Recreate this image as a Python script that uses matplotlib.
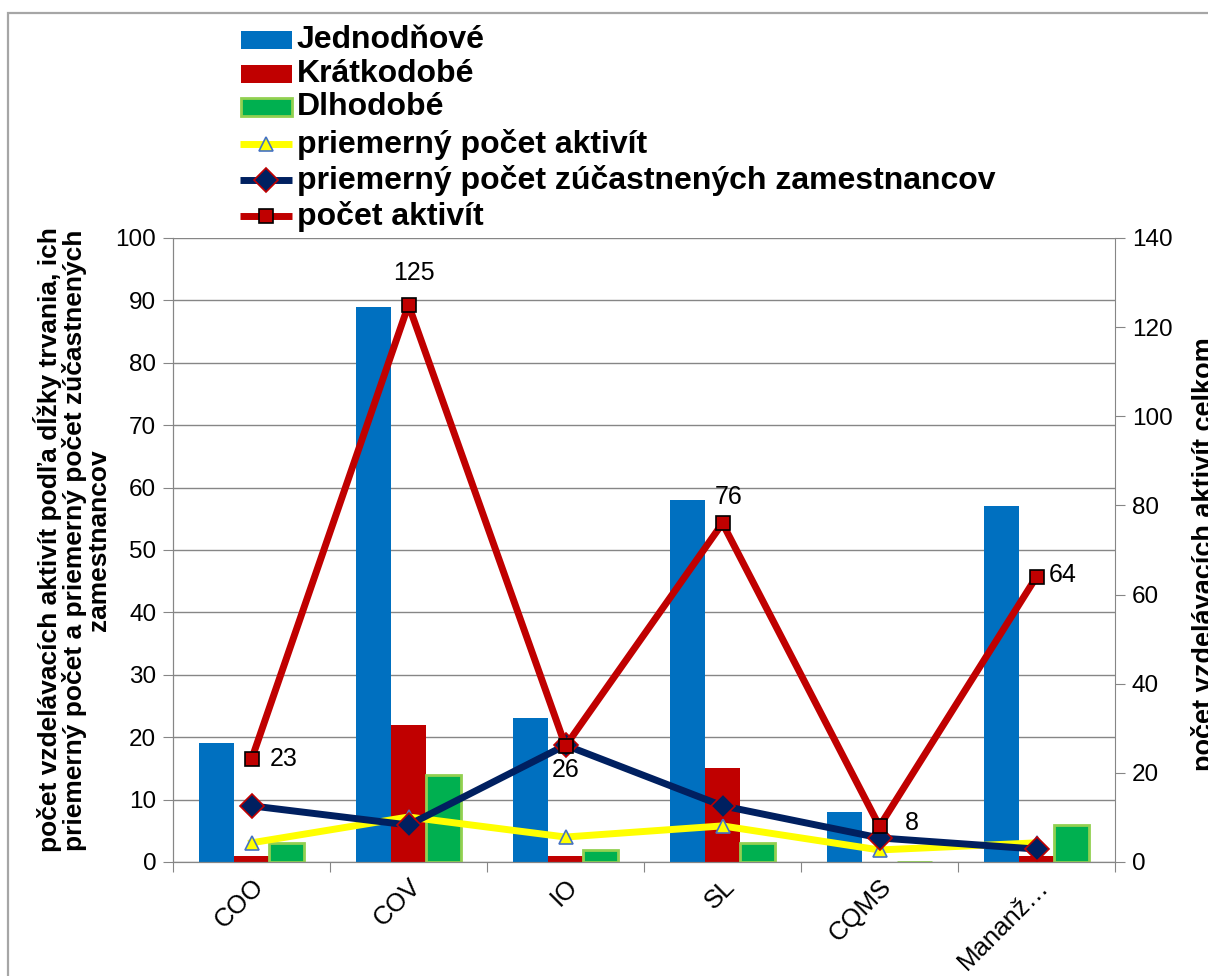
import matplotlib.pyplot as plt
import numpy as np
from matplotlib.patches import Rectangle
from matplotlib.lines import Line2D

plt.rcParams['font.family'] = ['Liberation Sans', 'DejaVu Sans']

# categories and values
kategorie = ['COO', 'COV', 'IO', 'SL', 'CQMS', 'Mananž…']
jednodnove = [19, 89, 23, 58, 8, 57]
kratkodobe = [1, 22, 1, 15, 0, 1]
dlhodobe = [3, 14, 2, 3, 0, 6]
priem_aktivit = [4.3, 10.1, 5.6, 8.1, 2.7, 4.3]
priem_zamestnancov = [12.6, 8.3, 26.2, 12.6, 5.4, 2.9]
pocet_aktivit = [23, 125, 26, 76, 8, 64]

W, H = 1208, 976
fig = plt.figure(figsize=(W / 100, H / 100), dpi=100)

# chart border (cut at right and bottom)
fig.patches.append(Rectangle((8 / W, -0.1), 1.2, 1 - 13 / H + 0.1,
                             transform=fig.transFigure, fill=False,
                             edgecolor='#a6a6a6', linewidth=1.6))

ax = fig.add_axes([173 / W, 1 - 862 / H, (1115 - 173) / W, (862 - 238) / H])
ax2 = ax.twinx()

x = np.arange(len(kategorie))
bw = 0.223
grey = '#868686'

ax.bar(x - bw, jednodnove, bw, color='#0070C0', zorder=2)
ax.bar(x, kratkodobe, bw, color='#C00000', zorder=2)
ax.bar(x + bw, dlhodobe, bw, color='#00B050', edgecolor='#92D050',
       linewidth=2, zorder=2)

styles = [
    dict(color='#FFFF00', linewidth=5, marker='^', markersize=10,
         markerfacecolor='#FFFF00', markeredgecolor='#4472C4', markeredgewidth=1.2),
    dict(color='#002060', linewidth=5, marker='D', markersize=12,
         markerfacecolor='#002060', markeredgecolor='#C00000', markeredgewidth=1.2),
    dict(color='#C00000', linewidth=5, marker='s', markersize=10,
         markerfacecolor='#C00000', markeredgecolor='black', markeredgewidth=1.2),
]
ax2.plot(x, priem_aktivit, zorder=3, **styles[0])
ax2.plot(x, priem_zamestnancov, zorder=4, **styles[1])
ax2.plot(x, pocet_aktivit, zorder=5, **styles[2])

# data labels of the total count (offsets in pixels)
offsets = [(18, 0, 'left', 'center'), (5, 20, 'center', 'bottom'),
           (0, -12, 'center', 'top'), (6, 14, 'center', 'bottom'),
           (25, 3, 'left', 'center'), (12, 2, 'left', 'center')]
for xi, v, (dx, dy, ha, va) in zip(x, pocet_aktivit, offsets):
    ax2.annotate(str(v), (xi, v), xytext=(dx, dy), textcoords='offset pixels',
                 ha=ha, va=va, fontsize=18, zorder=6)

ax.set_xlim(-0.5, len(kategorie) - 0.5)
ax.set_ylim(0, 100)
ax2.set_ylim(0, 140)
ax.set_yticks(np.arange(0, 101, 10))
ax2.set_yticks(np.arange(0, 141, 20))
ax.yaxis.grid(True, color=grey, linewidth=1)
ax.set_axisbelow(True)

ax.set_xticks(np.arange(-0.5, len(kategorie), 1))
ax.set_xticklabels([])
ax.set_xticks(x, minor=True)
ax.set_xticklabels(kategorie, minor=True, rotation=45, ha='right', va='top',
                   rotation_mode='anchor', fontsize=18.5)
ax.tick_params(axis='x', which='minor', length=0, pad=9)
ax.tick_params(axis='x', which='major', length=7, color=grey, direction='out')
ax.tick_params(axis='y', labelsize=17.5, length=7, color=grey, pad=5)
ax2.tick_params(axis='y', labelsize=17.5, length=7, color=grey, pad=5)

for a in (ax, ax2):
    a.spines['top'].set_visible(False)
    for s in ('left', 'right', 'bottom'):
        a.spines[s].set_color(grey)
ax.spines['right'].set_visible(False)

fig.text(72 / W, 1 - 540 / H,
         'počet vzdelávacích aktivít podľa dĺžky trvania, ich\n'
         'priemerný počet a priemerný počet zúčastnených\nzamestnancov',
         rotation=90, ha='center', va='center', multialignment='center',
         fontsize=19, fontweight='bold', linespacing=1.0)
fig.text(1204 / W, 1 - 554 / H, 'počet vzdelávacích aktivít celkom',
         rotation=90, ha='center', va='center', fontsize=19.5, fontweight='bold')

# legend drawn row by row
labels = ['Jednodňové', 'Krátkodobé', 'Dlhodobé', 'priemerný počet aktivít',
          'priemerný počet zúčastnených zamestnancov', 'počet aktivít']
bar_colors = [('#0070C0', 'none'), ('#C00000', 'none'), ('#00B050', '#92D050')]
row_y = [40, 74, 107, 144, 180, 216]
for i, (lab, yy) in enumerate(zip(labels, row_y)):
    yf = 1 - yy / H
    if i < 3:
        fc, ec = bar_colors[i]
        fig.patches.append(Rectangle((241 / W, 1 - (yy + 9) / H), 51 / W, 18 / H,
                                     transform=fig.transFigure, facecolor=fc,
                                     edgecolor=ec, linewidth=2))
    else:
        st = dict(styles[i - 3])
        fig.add_artist(Line2D([240 / W, 292 / W], [yf, yf],
                              transform=fig.transFigure,
                              **{k: v for k, v in st.items() if k[:6] != 'marker'},
                              solid_capstyle='butt'))
        fig.add_artist(Line2D([266 / W], [yf], transform=fig.transFigure,
                              linestyle='none', **{k: v for k, v in st.items()
                                                   if k[:6] == 'marker'}))
    fig.text(297 / W, yf, lab, ha='left', va='center', fontsize=23,
             fontweight='bold')

fig.savefig('out.png', dpi=100)
